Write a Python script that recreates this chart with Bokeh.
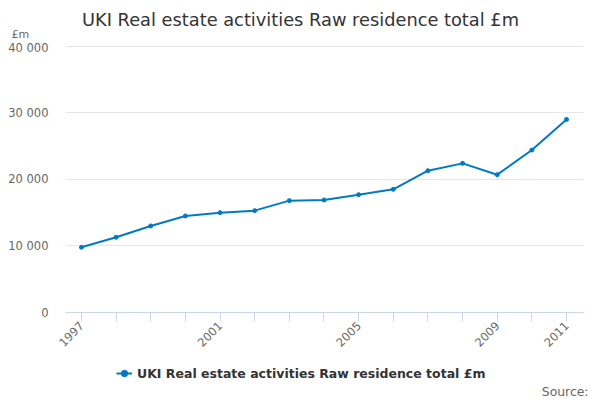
import math
from bokeh.plotting import figure
from bokeh.layouts import column, row
from bokeh.models import (Range1d, FixedTicker, Legend, LegendItem, ColumnDataSource, Label, Plot)
from bokeh.embed import file_html
from bokeh.resources import INLINE

years = list(range(1997, 2012))
values = [9800, 11300, 13000, 14500, 15000, 15300, 16800, 16900, 17700,
          18500, 21300, 22400, 20700, 24400, 29000]
labelled_years = [1997, 2001, 2005, 2009, 2011]
y_ticks = [0, 10000, 20000, 30000, 40000]
y_tick_labels = ["0", "10 000", "20 000", "30 000", "40 000"]
title_text = "UKI Real estate activities Raw residence total £m"
series_name = "UKI Real estate activities Raw residence total £m"
unit_text = "£m"
source_text = "Source:"

COLOR = "#007ac3"
FONT = "DejaVu Sans"


def bare(height):
    f = figure(width=600, height=height, output_backend="svg", toolbar_location=None,
               title=None, x_axis_type=None, y_axis_type=None,
               x_range=Range1d(0, 600), y_range=Range1d(0, height),
               min_border=0)
    f.outline_line_color = None
    f.xgrid.visible = False
    f.ygrid.visible = False
    f.background_fill_color = "white"
    f.border_fill_color = "white"
    return f


src = ColumnDataSource(dict(x=years, y=values))

# ---- top strip: title and unit ----
top = bare(40)
top.add_layout(Label(x=300, y=21, x_units="screen", y_units="screen",
                     text=title_text, text_align="center", text_baseline="alphabetic",
                     text_font=FONT, text_font_size="17.8px", text_color="#333333"))
top.add_layout(Label(x=11, y=6.5, x_units="screen", y_units="screen",
                     text=unit_text, text_align="left", text_baseline="alphabetic",
                     text_font=FONT, text_font_size="11px", text_color="#666666"))

# ---- main chart ----
p = figure(width=600, height=316, output_backend="svg", toolbar_location=None,
           title=None,
           x_range=Range1d(1996.54, 2011.49), y_range=Range1d(0, 40105),
           min_border_left=65, min_border_right=17, min_border_top=5,
           min_border_bottom=44)
p.outline_line_color = None
p.background_fill_color = "white"
p.border_fill_color = "white"

p.xgrid.grid_line_color = None
p.ygrid.grid_line_color = "#e6e6e6"
p.ygrid.grid_line_width = 1

p.yaxis.ticker = FixedTicker(ticks=y_ticks)
p.yaxis.major_label_overrides = {t: l for t, l in zip(y_ticks, y_tick_labels)}
p.yaxis.axis_line_color = None
p.yaxis.major_tick_line_color = None
p.yaxis.minor_tick_line_color = None
p.yaxis.major_tick_out = 0
p.yaxis.major_tick_in = 0
p.yaxis.major_label_standoff = 17
p.yaxis.major_label_text_font = FONT
p.yaxis.major_label_text_font_size = "11.5px"
p.yaxis.major_label_text_color = "#666666"

p.xaxis.ticker = FixedTicker(ticks=years)
p.xaxis.major_label_overrides = {y: (str(y) if y in labelled_years else "") for y in years}
p.xaxis.axis_line_color = "#ccd6eb"
p.xaxis.major_tick_line_color = "#ccd6eb"
p.xaxis.minor_tick_line_color = None
p.xaxis.major_tick_out = 9
p.xaxis.major_tick_in = 0
p.xaxis.major_label_orientation = math.pi / 4
p.xaxis.major_label_standoff = 2
p.xaxis.major_label_text_font = FONT
p.xaxis.major_label_text_font_size = "11.5px"
p.xaxis.major_label_text_color = "#666666"

p.line("x", "y", source=src, line_color=COLOR, line_width=2)
p.scatter("x", "y", source=src, marker="circle", size=4,
          fill_color=COLOR, line_color=COLOR)

# ---- bottom strip: legend and source ----
bot = bare(44)
lg_line = bot.line("x", "y", source=src, line_color=COLOR, line_width=2, visible=False)
lg_pts = bot.scatter("x", "y", source=src, marker="circle", size=5,
                     fill_color=COLOR, line_color=COLOR, visible=False)
legend = Legend(items=[LegendItem(label=series_name, renderers=[lg_line, lg_pts])],
                location=(116, 17), orientation="horizontal",
                padding=0, margin=0, spacing=0,
                glyph_width=16, glyph_height=20, label_standoff=5,
                border_line_color=None, background_fill_alpha=0,
                inactive_fill_alpha=0, click_policy="none",
                label_text_font=FONT, label_text_font_size="12.5px",
                label_text_font_style="bold", label_text_color="#333333")
bot.add_layout(legend, "center")
bot.add_layout(Label(x=588, y=9.5, x_units="screen", y_units="screen",
                     text=source_text, text_align="right", text_baseline="alphabetic",
                     text_font=FONT, text_font_size="12.4px", text_color="#666666"))

if "frame_align" in Plot.properties():
    for f in (top, p, bot):
        f.frame_align = False
    layout = column(top, p, bot, spacing=0)
else:
    layout = column(row(top), p, row(bot), spacing=0)

open("out.html", "w").write(file_html(layout, INLINE))
